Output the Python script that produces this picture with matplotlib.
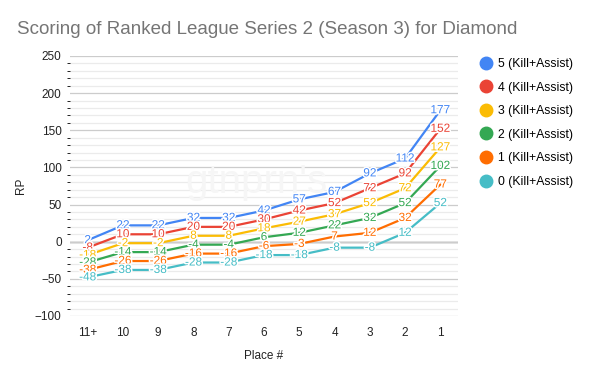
import matplotlib
matplotlib.use("Agg")
import matplotlib.pyplot as plt
import matplotlib.patheffects as pe
from matplotlib.ticker import MultipleLocator
from matplotlib.lines import Line2D

places = ["11+", "10", "9", "8", "7", "6", "5", "4", "3", "2", "1"]
series_names = ["5 (Kill+Assist)", "4 (Kill+Assist)", "3 (Kill+Assist)",
                "2 (Kill+Assist)", "1 (Kill+Assist)", "0 (Kill+Assist)"]
ka5 = [2, 22, 22, 32, 32, 42, 57, 67, 92, 112, 177]
ka4 = [-8, 10, 10, 20, 20, 30, 42, 52, 72, 92, 152]
ka3 = [-18, -2, -2, 8, 8, 18, 27, 37, 52, 72, 127]
ka2 = [-28, -14, -14, -4, -4, 6, 12, 22, 32, 52, 102]
ka1 = [-38, -26, -26, -16, -16, -6, -3, 7, 12, 32, 77]
ka0 = [-48, -38, -38, -28, -28, -18, -18, -8, -8, 12, 52]
all_series = [ka5, ka4, ka3, ka2, ka1, ka0]
colors = ["#4285F4", "#EA4335", "#FBBC04", "#34A853", "#FF6D01", "#46BDC6"]

plt.rcParams['font.family'] = ['Arial', 'Liberation Sans', 'DejaVu Sans']

fig = plt.figure(figsize=(6, 3.71), dpi=100)
ax = fig.add_axes([70/600, 1-316/371, (458-70)/600, (316-56)/371])

x = list(range(len(places)))
ax.set_xlim(-0.5, len(places) - 0.5)
ax.set_ylim(-100, 250)
ax.yaxis.set_major_locator(MultipleLocator(50))
ax.yaxis.set_minor_locator(MultipleLocator(10))
ax.grid(which='major', axis='y', color='#cccccc', linewidth=0.9, zorder=0)
ax.grid(which='minor', axis='y', color='#ebebeb', linewidth=0.9, zorder=0)
ax.axhline(0, color='#333333', linewidth=0.9, zorder=1)

fig.text(256/600, 1-182/371, "gtnprn's", fontsize=29, color='#f6f6f6',
         ha='center', va='center', zorder=0.5)

for vals, c in zip(all_series, colors):
    ax.plot(x, vals, color=c, linewidth=1.6, zorder=3, solid_capstyle='round')

for vals, c in zip(all_series, colors):
    for xi, v in zip(x, vals):
        ax.text(xi, v, str(v), color=c, fontsize=8.5, ha='center', va='center', zorder=5,
                path_effects=[pe.withStroke(linewidth=2.2, foreground='white')])

ax.set_xticks(x)
ax.set_xticklabels(places)
ax.tick_params(axis='both', length=0, labelsize=8.5, colors='#222222')
ax.tick_params(axis='x', pad=8)
ax.tick_params(axis='y', pad=6)
for s in ax.spines.values():
    s.set_visible(False)

ax.set_xlabel("Place #", fontsize=8.5, color='#222222', labelpad=8)
ax.set_ylabel("RP", fontsize=8.5, color='#222222', labelpad=6)

fig.text(17/600, 1-29/371, "Scoring of Ranked League Series 2 (Season 3) for Diamond",
         fontsize=13.5, color='#757575', ha='left', va='center')

handles = [Line2D([0], [0], marker='o', linestyle='none', markersize=9,
                  markerfacecolor=c, markeredgecolor=c) for c in colors]
fig.legend(handles, series_names, loc='upper left', bbox_to_anchor=(474/600, 1-53/371),
           frameon=False, fontsize=8.8, handletextpad=0.4, labelspacing=0.95,
           handlelength=1.2, borderaxespad=0)

fig.savefig("out.png", dpi=100)
